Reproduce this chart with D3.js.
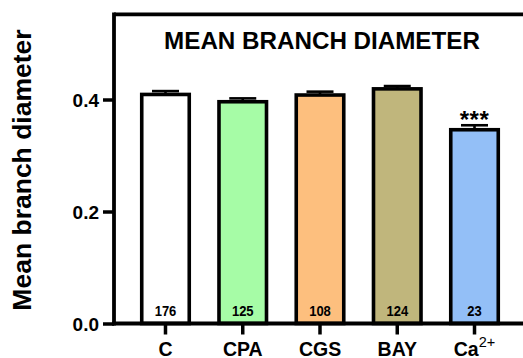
<!DOCTYPE html>
<html>
<head>
<meta charset="utf-8">
<script src="https://cdn.jsdelivr.net/npm/d3@7"></script>
<style>
  html, body { margin: 0; padding: 0; background: #fff; }
  svg { display: block; }
  text { font-family: "Liberation Sans", Arial, sans-serif; font-weight: bold; fill: #000; }
</style>
</head>
<body>
<svg id="chart" width="523" height="358"></svg>
<script>
// Mean branch diameter per treatment group
const categories = ["C", "CPA", "CGS", "BAY", "Ca"];
const means      = [0.409, 0.396, 0.408, 0.419, 0.346];
const sems       = [0.006, 0.006, 0.006, 0.005, 0.008];
const counts     = [176, 125, 108, 124, 23];
const fills      = ["#ffffff", "#a6fca6", "#fdbf7e", "#c0b67c", "#93bff7"];
const significance = ["", "", "", "", "***"];
const yTicks     = [0.0, 0.2, 0.4];

const svg = d3.select("#chart");
const margin = { left: 114, top: 15.5, bottom: 323.5, right: 526 };

const x = d3.scaleBand()
  .domain(categories)
  .range([margin.left, margin.right])
  .paddingInner(0.385)
  .paddingOuter(0.359);

const y = d3.scaleLinear()
  .domain([0, 0.55])
  .range([margin.bottom, margin.top]);

// bars
const g = svg.append("g");
g.selectAll("rect.bar")
  .data(categories)
  .join("rect")
  .attr("class", "bar")
  .attr("x", d => x(d))
  .attr("width", x.bandwidth())
  .attr("y", (d, i) => y(means[i]))
  .attr("height", (d, i) => y(0) - y(means[i]))
  .attr("fill", (d, i) => fills[i])
  .attr("stroke", "#000")
  .attr("stroke-width", 3.6);

// upper error whiskers
const capW = 27;
categories.forEach((d, i) => {
  const cx = x(d) + x.bandwidth() / 2;
  g.append("line")
    .attr("x1", cx).attr("x2", cx)
    .attr("y1", y(means[i])).attr("y2", y(means[i] + sems[i]))
    .attr("stroke", "#000").attr("stroke-width", 2.6);
  g.append("line")
    .attr("x1", cx - capW / 2).attr("x2", cx + capW / 2)
    .attr("y1", y(means[i] + sems[i])).attr("y2", y(means[i] + sems[i]))
    .attr("stroke", "#000").attr("stroke-width", 2.6);
  if (significance[i]) {
    g.append("text")
      .attr("x", cx).attr("y", y(means[i] + sems[i]) + 3)
      .attr("text-anchor", "middle")
      .attr("font-size", 24)
      .attr("letter-spacing", 0.5)
      .text(significance[i]);
  }
  // group sizes at the base of each bar
  g.append("text")
    .attr("transform", `translate(${cx},316) scale(0.84,1)`)
    .attr("text-anchor", "middle")
    .attr("font-size", 15.5)
    .text(counts[i]);
});

// frame: top edge of the plot box
svg.append("line")
  .attr("x1", margin.left).attr("x2", margin.right)
  .attr("y1", 14.3).attr("y2", 14.3)
  .attr("stroke", "#000").attr("stroke-width", 3.8);

// y axis
const yAxis = svg.append("g")
  .attr("transform", `translate(${margin.left},0)`)
  .call(d3.axisLeft(y).tickValues(yTicks).tickFormat(d3.format(".1f")).tickSize(11).tickSizeOuter(0));
yAxis.select(".domain").attr("stroke-width", 3.8).attr("d", `M0,${margin.bottom + 1.9}V12.4`);
yAxis.selectAll(".tick line").attr("stroke-width", 3.5);
yAxis.selectAll(".tick text")
  .attr("x", -15).attr("dy", "0.36em")
  .attr("font-size", 19).attr("font-family", null).attr("font-weight", null);

// x axis
const xAxis = svg.append("g")
  .attr("transform", `translate(0,${margin.bottom})`)
  .call(d3.axisBottom(x).tickSize(11).tickSizeOuter(0).tickFormat(() => ""));
xAxis.select(".domain").attr("stroke-width", 3.8).attr("d", `M${margin.left - 1.9},0H${margin.right}`);
xAxis.selectAll(".tick line").attr("stroke-width", 3.5);

const labels = xAxis.selectAll(".tick").append("text")
  .attr("y", 32)
  .attr("text-anchor", "middle")
  .attr("font-size", 19.5)
  .attr("font-family", null).attr("font-weight", null);
labels.each(function (d) {
  const t = d3.select(this);
  if (d === "Ca") {
    t.append("tspan").text("Ca");
    t.append("tspan").attr("dy", -9).attr("font-size", 14.5).attr("font-weight", "normal").text("2+");
  } else {
    t.text(d);
  }
});

// title
svg.append("text")
  .attr("x", 322).attr("y", 49)
  .attr("text-anchor", "middle")
  .attr("font-size", 24.2)
  .text("MEAN BRANCH DIAMETER");

// y axis title
svg.append("text")
  .attr("transform", "translate(31,170) rotate(-90)")
  .attr("text-anchor", "middle")
  .attr("font-size", 26.5)
  .text("Mean branch diameter");
</script>
</body>
</html>
